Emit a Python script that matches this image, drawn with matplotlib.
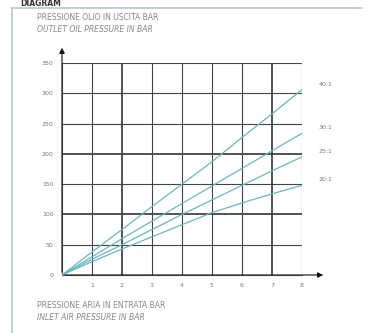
import matplotlib
matplotlib.use("Agg")
import matplotlib.pyplot as plt

x_bar = [0, 1, 2, 3, 4, 5, 6, 7, 8]
ratio_labels = ["40:1", "30:1", "25:1", "20:1"]
oil_40 = [0, 38, 75, 113, 150, 187, 227, 266, 306]
oil_30 = [0, 30, 60, 89, 118, 147, 176, 205, 234]
oil_25 = [0, 26, 50, 75, 100, 124, 148, 172, 195]
oil_20 = [0, 22, 43, 63, 83, 103, 119, 134, 148]
series = [oil_40, oil_30, oil_25, oil_20]
x_ticks = [1, 2, 3, 4, 5, 6, 7, 8]
y_ticks = [0, 50, 100, 150, 200, 250, 300, 350]

W, H = 371, 333
fig = plt.figure(figsize=(W / 100, H / 100), dpi=100)
fig.patch.set_facecolor("white")

# outer frame
frame = fig.add_axes([12 / W, 0, 350 / W, (H - 8) / H])
frame.set_xticks([]); frame.set_yticks([])
frame.set_facecolor("none")
for s in ["left", "top"]:
    frame.spines[s].set_color("#b8c8d0")
    frame.spines[s].set_linewidth(1.2)
frame.spines["bottom"].set_visible(False)
frame.spines["right"].set_visible(False)

fig.text(20 / W, 1 - 4 / H, "DIAGRAM", fontsize=5.5, fontweight="bold", color="#333333",
         va="center", ha="left")

ax = fig.add_axes([62 / W, (H - 275) / H, 240 / W, 212 / H])
ax.set_xlim(0, 8)
ax.set_ylim(0, 350)
ax.set_facecolor("white")

for xv in x_ticks:
    lw = 1.3 if xv in (2, 7) else 0.8
    ax.axvline(xv, color="#444444", lw=lw, zorder=1)
for yv in y_ticks[1:]:
    lw = 1.3 if yv in (100, 200) else 0.8
    ax.axhline(yv, color="#444444", lw=lw, zorder=1)

line_color = "#6bb6bf"
for vals, lab in zip(series, ratio_labels):
    ax.plot(x_bar, vals, color=line_color, lw=0.9, zorder=3)
    ax.annotate(lab, xy=(8, vals[-1]), xytext=(12, 4), textcoords="offset points",
                fontsize=4.5, color="#777777", va="center", ha="left",
                annotation_clip=False)

for s in ["top", "right"]:
    ax.spines[s].set_visible(False)
ax.spines["left"].set_color("#666666")
ax.spines["bottom"].set_color("#666666")

ax.set_xticks(x_ticks)
ax.set_yticks(y_ticks)
ax.tick_params(axis="both", length=0, labelsize=4.5, labelcolor="#777777", pad=6)

# axis arrows
ax.annotate("", xy=(0, 1.085), xycoords="axes fraction", xytext=(0, 0),
            arrowprops=dict(arrowstyle="-|>", color="#111111", lw=0.8, mutation_scale=8),
            annotation_clip=False)
ax.annotate("", xy=(1.1, 0), xycoords="axes fraction", xytext=(0, 0),
            arrowprops=dict(arrowstyle="-|>", color="#111111", lw=0.8, mutation_scale=8),
            annotation_clip=False)

fig.text(37 / W, 1 - 17 / H, "PRESSIONE OLIO IN USCITA BAR", fontsize=5.5, color="#888888",
         va="center", ha="left")
fig.text(37 / W, 1 - 29 / H, "OUTLET OIL PRESSURE IN BAR", fontsize=5.5, color="#888888",
         va="center", ha="left", style="italic")
fig.text(37 / W, 1 - 306 / H, "PRESSIONE ARIA IN ENTRATA BAR", fontsize=5.5, color="#888888",
         va="center", ha="left")
fig.text(37 / W, 1 - 318 / H, "INLET AIR PRESSURE IN BAR", fontsize=5.5, color="#888888",
         va="center", ha="left", style="italic")

fig.savefig("out.png", dpi=100)
